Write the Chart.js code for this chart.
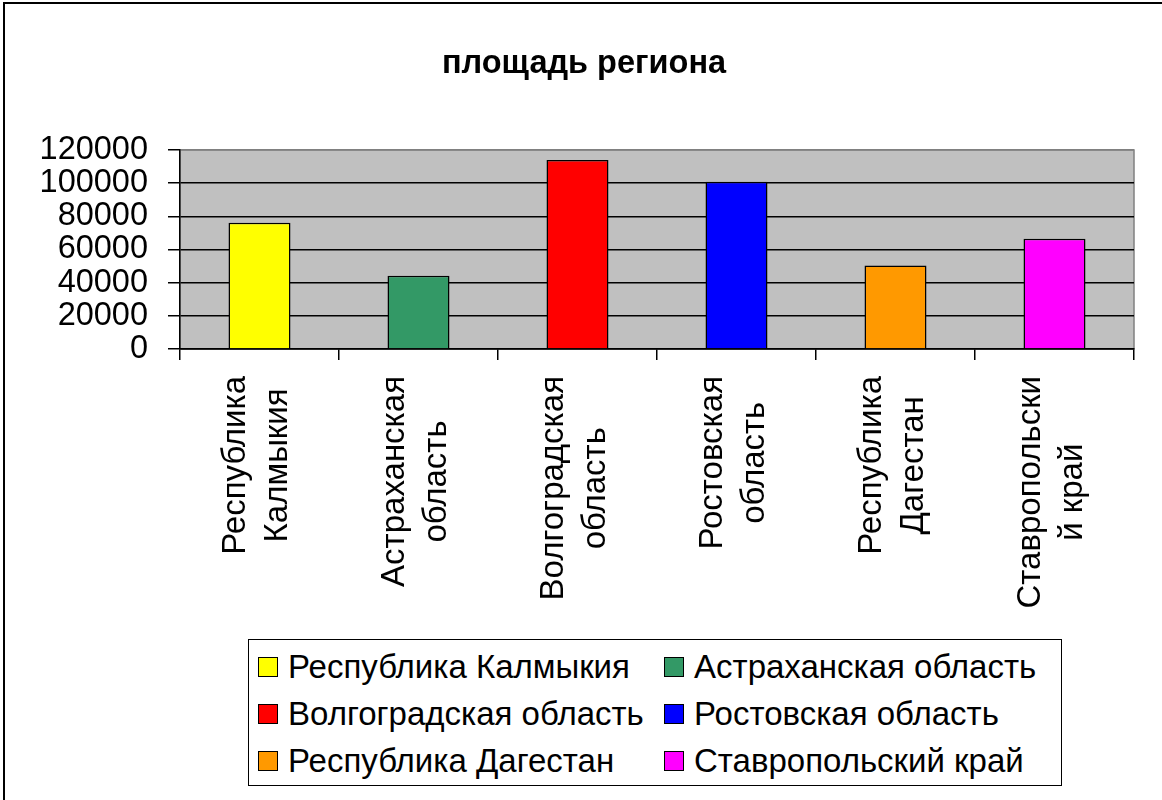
<!DOCTYPE html>
<html>
<head>
<meta charset="utf-8">
<title>площадь региона</title>
<script src="https://cdn.jsdelivr.net/npm/chart.js@4.4.1/dist/chart.umd.min.js"></script>
<style>
  body { margin: 0; background: #fff; }
  #wrap { position: relative; width: 1162px; height: 800px; }
  #legend {
    position: absolute; left: 248px; top: 639px;
    width: 812px; height: 142px;
    border: 1.5px solid #000; background: #fff;
    box-sizing: content-box; padding-top: 3px;
    display: grid; grid-template-columns: 406px 406px; grid-auto-rows: 47px;
    font-family: "Liberation Sans", Arial, sans-serif; font-size: 33px; color: #000;
  }
  .item { display: flex; align-items: center; padding-left: 9px; white-space: nowrap; }
  .box { width: 18px; height: 18px; border: 1px solid #000; margin-right: 10px; flex: none; }
</style>
</head>
<body>
<div id="wrap">
  <canvas id="chart" width="1162" height="800"></canvas>
  <div id="legend"></div>
</div>
<script>
// данные
const categories = [
  ['Республика', 'Калмыкия'],
  ['Астраханская', 'область'],
  ['Волгоградская', 'область'],
  ['Ростовская', 'область'],
  ['Республика', 'Дагестан'],
  ['Ставропольски', 'й край']
];
const legendNames = ['Республика Калмыкия', 'Астраханская область', 'Волгоградская область',
  'Ростовская область', 'Республика Дагестан', 'Ставропольский край'];
const areaValues = [76100, 44100, 113900, 100800, 50300, 66500];
const barColors = ['#FFFF00', '#339966', '#FF0000', '#0000FF', '#FF9900', '#FF00FF'];
const yMin = 0;
const yMax = 120000;
const yStep = 20000;

const fontFamily = '"Liberation Sans", Arial, sans-serif';

// серый фон области построения + рамка
const plotBackground = {
  id: 'plotBackground',
  beforeDraw(chart) {
    const { ctx, chartArea: a } = chart;
    ctx.save();
    ctx.strokeStyle = '#000';
    ctx.lineWidth = 2;
    ctx.beginPath();
    ctx.moveTo(4, 800);
    ctx.lineTo(4, 3);
    ctx.lineTo(1162, 3);
    ctx.stroke();
    ctx.fillStyle = '#C0C0C0';
    ctx.fillRect(a.left, a.top, a.right - a.left, a.bottom - a.top);
    ctx.strokeStyle = '#808080';
    ctx.lineWidth = 1.5;
    ctx.strokeRect(a.left, a.top, a.right - a.left, a.bottom - a.top);
    ctx.restore();
  }
};

// подписи категорий: повёрнуты, строки по центру
const xLabels = {
  id: 'xLabels',
  afterDraw(chart) {
    const { ctx, scales: { x } } = chart;
    ctx.save();
    ctx.font = '33px ' + fontFamily;
    ctx.fillStyle = '#000';
    ctx.textAlign = 'center';
    ctx.textBaseline = 'middle';
    categories.forEach((lines, i) => {
      const cx = x.getPixelForTick(i) - 3;
      const longest = Math.max(...lines.map(l => ctx.measureText(l).width));
      const cy = x.top + 27 + longest / 2;
      lines.forEach((line, j) => {
        ctx.save();
        ctx.translate(cx + (j - (lines.length - 1) / 2) * 42, cy);
        ctx.rotate(-Math.PI / 2);
        ctx.fillText(line, 0, 0);
        ctx.restore();
      });
    });
    ctx.restore();
  }
};

const ctx = document.getElementById('chart');

const myChart = new Chart(ctx, {
  type: 'bar',
  data: {
    labels: categories,
    datasets: [{
      label: 'площадь региона',
      data: areaValues,
      backgroundColor: barColors,
      borderColor: '#000',
      borderWidth: 1.5,
      barPercentage: 0.39,
      categoryPercentage: 1
    }]
  },
  options: {
    responsive: false,
    animation: false,
    devicePixelRatio: 1,
    layout: { padding: { left: 34, right: 28, top: 0, bottom: 161 } },
    plugins: {
      legend: { display: false },
      tooltip: { enabled: false },
      title: {
        display: true,
        text: 'площадь региона',
        color: '#000',
        font: { family: fontFamily, size: 32.5, weight: 'bold', lineHeight: 1.2 },
        padding: { top: 45, bottom: 66 }
      }
    },
    scales: {
      x: {
        offset: true,
        grid: { offset: true, drawOnChartArea: false, color: '#000', tickLength: 11, lineWidth: 1.5 },
        border: { color: '#000', width: 1.5 },
        ticks: { display: false },
        afterFit(scale) { scale.height = 290; }
      },
      y: {
        min: yMin,
        max: yMax,
        ticks: {
          stepSize: yStep,
          autoSkip: false,
          color: '#000',
          padding: 20,
          font: { family: fontFamily, size: 32.5, lineHeight: 1 },
          callback: v => String(v)
        },
        grid: {
          color: c => (c.tick && c.tick.value === yMax ? '#808080' : '#000'),
          tickColor: '#000',
          tickLength: 12,
          lineWidth: 1.5
        },
        border: { color: '#000', width: 1.5 },
        afterFit(scale) { scale.width = 146; }
      }
    }
  },
  plugins: [plotBackground, xLabels]
});

// легенда
let item = '';
legendNames.forEach(function(name, i) {
  item += `<div class="item"><span class="box" style="background:${barColors[i]}"></span>${name}</div>`;
});
document.getElementById('legend').innerHTML = item;
</script>
</body>
</html>
